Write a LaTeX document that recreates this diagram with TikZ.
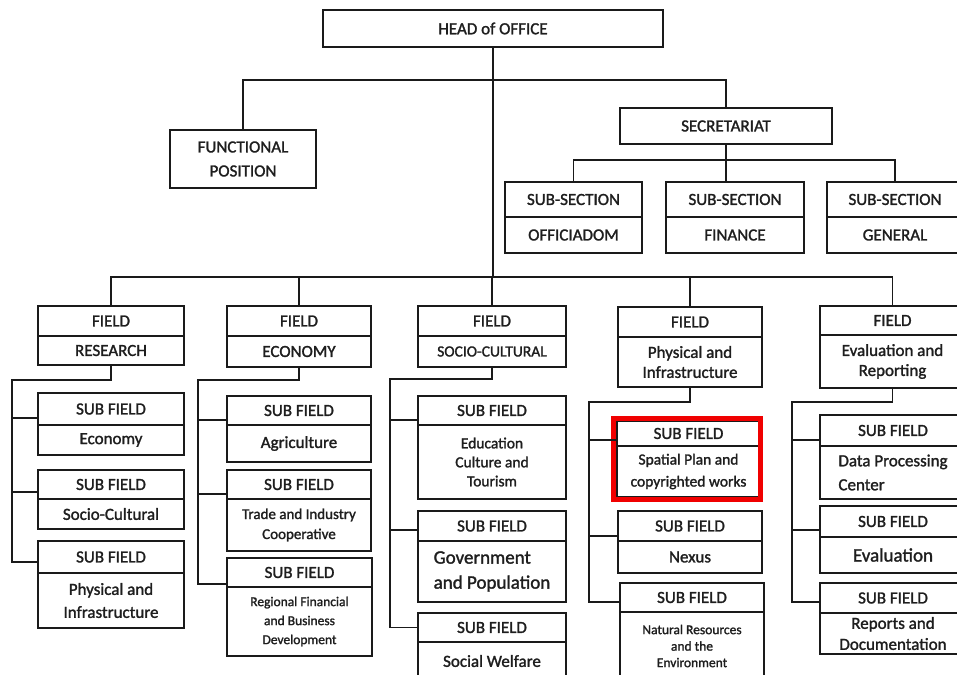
\documentclass[tikz,border=0pt]{standalone}
\usepackage{fontspec}
\setmainfont{Carlito}[FakeBold=1.5]
\usetikzlibrary{fit}
\definecolor{inkline}{HTML}{1A1A1A}
\definecolor{inktext}{HTML}{1E1E1E}
\definecolor{hired}{HTML}{F00000}

% Two stacked cells: [options of lower cell]{name}{x left}{x right}{y top}{y divider}{y bottom}{upper text}{lower text}
\newcommand\cellpair[9][]{%
  \node[cell, anchor=north west, minimum width={#4-#3}, minimum height={#6-#5}] (#2t) at (#3,#5) {#8};
  \node[cell, anchor=north west, minimum width={#4-#3}, minimum height={#7-#6}, #1] (#2b) at (#3,#6) {#9};
}

\begin{document}
\begin{tikzpicture}[x=1pt,y=-1pt,
  cell/.style={draw=inkline, line width=1.5pt, inner sep=0pt, outer sep=0pt,
    align=center, text=inktext, font=\fontsize{17}{23}\selectfont},
  link/.style={draw=inkline, line width=1.5pt},
  hilite/.style={draw=hired, line width=5pt, inner sep=0pt}]

\fill[white] (0,0) rectangle (957,674);
\useasboundingbox (0,0) rectangle (957,674);
\clip (0,0) rectangle (957,674);

% ---- top level ----
\node[cell, anchor=north west, minimum width=340, minimum height=37] (head) at (323,10) {HEAD of OFFICE};
\node[cell, anchor=north west, minimum width=146, minimum height=58,
  font=\fontsize{17}{24}\selectfont] (func) at (170,130) {FUNCTIONAL\\POSITION};
\node[cell, anchor=north west, minimum width=212, minimum height=36] (sec) at (620,108) {SECRETARIAT};

\cellpair{ssO}{505}{642}{182}{217}{253}{SUB-SECTION}{OFFICIADOM}
\cellpair{ssF}{666}{804}{182}{217}{253}{SUB-SECTION}{FINANCE}
\cellpair{ssG}{827}{963}{182}{217}{253}{SUB-SECTION}{GENERAL}

% ---- fields ----
\cellpair{fRes}{38}{184}{306}{336}{365}{FIELD}{RESEARCH}
\cellpair{fEco}{227}{371}{306}{336}{367}{FIELD}{ECONOMY}
\cellpair[font=\fontsize{15.5}{19}\selectfont]{fSoc}{418}{566}{306}{336}{367}{FIELD}{SOCIO-CULTURAL}
\cellpair[font=\fontsize{17}{20}\selectfont]{fPhy}{618}{762}{307}{337}{387}{FIELD}{Physical and\\Infrastructure}
\cellpair[font=\fontsize{17}{20}\selectfont]{fEva}{820}{965}{306}{335}{388}{FIELD}{Evaluation and\\Reporting}

% ---- sub fields: research ----
\cellpair{r1}{38}{184}{393}{425}{455}{SUB FIELD}{Economy}
\cellpair{r2}{38}{184}{470}{499}{529}{SUB FIELD}{Socio-Cultural}
\cellpair{r3}{38}{184}{541}{573}{628}{SUB FIELD}{Physical and\\Infrastructure}

% ---- sub fields: economy ----
\cellpair{e1}{227}{371}{396}{425}{462}{SUB FIELD}{Agriculture}
\cellpair[font=\fontsize{15}{20}\selectfont]{e2}{227}{371}{470}{499}{551}{SUB FIELD}{Trade and Industry\\Cooperative}
\cellpair[font=\fontsize{13.5}{19}\selectfont]{e3}{227}{372}{558}{587}{656}{SUB FIELD}{Regional Financial\\and Business\\Development}

% ---- sub fields: socio-cultural ----
\cellpair[font=\fontsize{15.5}{19}\selectfont]{s1}{418}{566}{396}{425}{499}{SUB FIELD}{Education\\Culture and\\Tourism}
\cellpair[font=\fontsize{19}{25}\selectfont, align=left]{s2}{418}{566}{511}{541}{602}{SUB FIELD}{Government\\and Population}
\cellpair{s3}{418}{566}{613}{642}{680}{SUB FIELD}{Social Welfare}

% ---- sub fields: physical and infrastructure ----
\cellpair[font=\fontsize{15.5}{22}\selectfont]{p1}{617}{760}{421}{446}{497}{SUB FIELD}{Spatial Plan and\\copyrighted works}
\cellpair{p2}{618}{762}{511}{541}{573}{SUB FIELD}{Nexus}
\cellpair[font=\fontsize{13.5}{16.5}\selectfont]{p3}{620}{764}{583}{612}{680}{SUB FIELD}{Natural Resources\\and the\\Environment}

% ---- sub fields: evaluation and reporting ----
\cellpair[align=left, font=\fontsize{17}{24}\selectfont]{v1}{820}{966}{415}{446}{499}{SUB FIELD}{Data Processing\\Center}
\cellpair[font=\fontsize{19}{23}\selectfont]{v2}{820}{966}{506}{537}{573}{SUB FIELD}{Evaluation}
\cellpair[font=\fontsize{17}{21}\selectfont]{v3}{820}{966}{583}{613}{654}{SUB FIELD}{Reports and\\Documentation}

% highlighted sub field
\node[hilite, fit=(p1t)(p1b), inner xsep=2pt, inner ysep=2.5pt, xshift=-1.5pt] (hl) {};

% ---- connectors: upper part ----
\coordinate (topbus) at (493,80);
\coordinate (fieldbus) at (493,277);
\coordinate (secbus) at (726,160);
\draw[link] (func.north) |- (topbus) -| (sec.north);
\draw[link] (head.south) -- (fieldbus);
\draw[link] (sec.south) -- (sec.south |- ssFt.north);
\draw[link] (ssOt.north) |- (secbus) -| (ssGt.north);
\draw[link] (fRest.north) |- (fieldbus) -| (fEvat.north);
\draw[link] (fEcot.north) -- (fEcot.north |- fieldbus);
\draw[link] (fSoct.north) -- (fSoct.north |- fieldbus);
\draw[link] (fPhyt.north) -- (fPhyt.north |- fieldbus);

% ---- connectors: research ----
\coordinate (rk) at (12,380);
\draw[link] (fResb.south) |- (rk) |- ([yshift=-5pt]r3t.west);
\draw[link] ([yshift=-9pt]r1t.west) -- ++(-26,0);
\draw[link] ([yshift=-7.5pt]r2t.west) -- ++(-26,0);

% ---- connectors: economy ----
\coordinate (ek) at (198,380);
\draw[link] (fEcob.south) |- (ek) |- ([yshift=-11.5pt]e3t.west);
\draw[link] ([yshift=-9.5pt]e1t.west) -- ++(-29,0);
\draw[link] ([yshift=-9.5pt]e2t.west) -- ++(-29,0);

% ---- connectors: socio-cultural ----
\coordinate (sk) at (390,379);
\draw[link] (fSocb.south) |- (sk) |- (s3t.west);
\draw[link] ([yshift=-9.5pt]s1t.west) -- ++(-28,0);
\draw[link] ([yshift=-4pt]s2t.west) -- ++(-28,0);

% ---- connectors: physical and infrastructure ----
\coordinate (pk) at (589,402);
\draw[link] (fPhyb.south) |- (pk) |- ([yshift=-4.5pt]p3t.west);
\draw[link] ([yshift=-6.5pt]p1t.west) -- ++(-28,0);
\draw[link] ([yshift=-10pt]p2t.west) -- ++(-29,0);

% ---- connectors: evaluation and reporting ----
\coordinate (vk) at (792,402);
\draw[link] (fEvab.south) |- (vk) |- ([yshift=-4pt]v3t.west);
\draw[link] ([yshift=-9.5pt]v1t.west) -- ++(-28,0);
\draw[link] ([yshift=-8.5pt]v2t.west) -- ++(-28,0);

\end{tikzpicture}
\end{document}
